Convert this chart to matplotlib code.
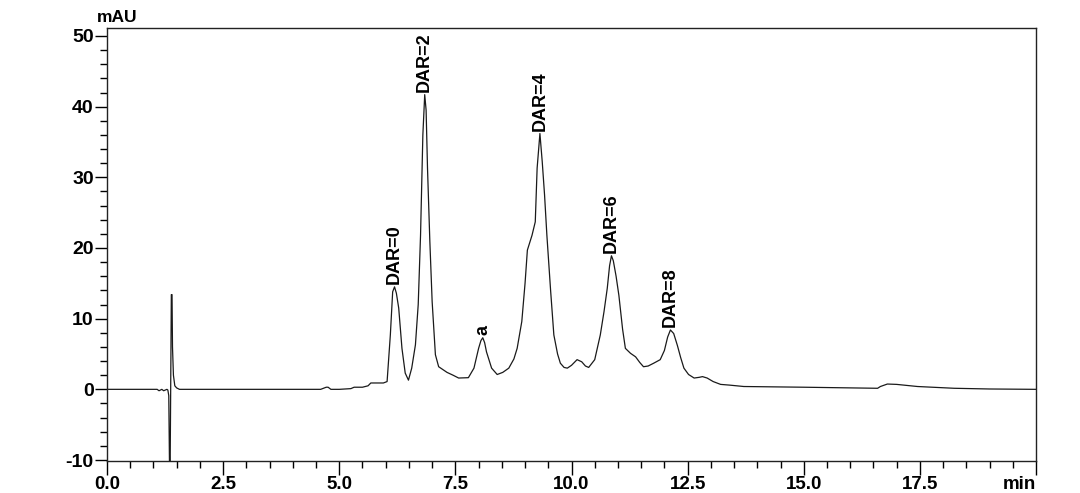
import matplotlib
matplotlib.use('Agg')
import matplotlib.pyplot as plt
from matplotlib.ticker import MultipleLocator, FixedLocator
import numpy as np

plt.rcParams['font.family'] = ['Liberation Sans', 'DejaVu Sans']
plt.rcParams['font.weight'] = 'bold'
plt.rcParams['axes.unicode_minus'] = False

# retention time (min) and absorbance (mAU)
time = [0.0, 0.7, 1.08, 1.12, 1.18, 1.22, 1.29, 1.31, 1.33, 1.345, 1.36, 1.375,
        1.385, 1.40, 1.41, 1.43, 1.46, 1.50, 1.56, 3.0, 4.6, 4.72, 4.76, 4.82,
        5.0, 5.25, 5.32, 5.5, 5.62, 5.68, 5.95, 6.03, 6.10, 6.15, 6.19, 6.23,
        6.28, 6.35, 6.42, 6.49, 6.56, 6.64, 6.70, 6.75, 6.80, 6.84, 6.87, 6.90,
        6.95, 7.0, 7.07, 7.14, 7.25, 7.32, 7.45, 7.57, 7.78, 7.90, 8.0, 8.05,
        8.09, 8.13, 8.17, 8.28, 8.40, 8.52, 8.65, 8.76, 8.83, 8.93, 9.0, 9.05,
        9.15, 9.22, 9.26, 9.32, 9.37, 9.42, 9.47, 9.55, 9.62, 9.70, 9.76, 9.84,
        9.91, 10.0, 10.12, 10.22, 10.30, 10.37, 10.50, 10.62, 10.70, 10.77,
        10.82, 10.86, 10.90, 10.96, 11.02, 11.10, 11.16, 11.27, 11.38, 11.47,
        11.55, 11.65, 11.77, 11.91, 12.0, 12.07, 12.13, 12.20, 12.28, 12.35,
        12.42, 12.52, 12.64, 12.75, 12.82, 12.92, 13.05, 13.21, 13.40, 13.71,
        15.0, 16.0, 16.59, 16.65, 16.80, 17.0, 17.45, 18.24, 19.0, 20.0]
signal = [0.0, 0.0, 0.0, -0.2, 0.0, -0.2, 0.0, -0.1, -0.9, -10.5, -10.5, 4.0,
          13.4, 13.4, 6.0, 2.0, 0.5, 0.2, 0.0, 0.0, 0.0, 0.3, 0.3, 0.0,
          0.0, 0.1, 0.3, 0.3, 0.5, 0.9, 0.9, 1.1, 7.7, 13.8, 14.5, 13.6,
          11.5, 5.8, 2.3, 1.3, 3.0, 6.3, 12.0, 21.8, 36.0, 41.7, 39.5, 31.3,
          21.0, 12.4, 4.9, 3.2, 2.7, 2.4, 2.0, 1.6, 1.65, 3.0, 5.8, 6.9,
          7.3, 6.6, 5.3, 3.0, 2.1, 2.4, 3.0, 4.3, 5.8, 9.6, 15.0, 19.7,
          21.8, 23.7, 31.3, 36.2, 32.2, 27.5, 21.8, 14.0, 7.7, 5.0, 3.7, 3.1,
          3.0, 3.4, 4.2, 3.9, 3.3, 3.1, 4.2, 7.7, 11.0, 14.3,
          17.5, 18.9, 18.2, 16.0, 13.3, 8.5, 5.8, 5.1, 4.6, 3.8,
          3.2, 3.3, 3.7, 4.2, 5.5, 7.4, 8.4, 7.9, 6.2, 4.5,
          3.0, 2.1, 1.6, 1.7, 1.8, 1.6, 1.1, 0.7, 0.6, 0.4,
          0.3, 0.2, 0.15, 0.4, 0.75, 0.7, 0.4, 0.15, 0.05, 0.0]

peak_labels = ['DAR=0', 'DAR=2', 'a', 'DAR=4', 'DAR=6', 'DAR=8']
peak_times = [6.19, 6.84, 8.09, 9.32, 10.86, 12.13]
peak_heights = [14.5, 41.7, 7.3, 36.2, 18.9, 8.4]

fig = plt.figure(figsize=(10.8, 4.93), dpi=100)
ax = fig.add_axes([107/1080, 32/493, 929/1080, 433/493])

ax.plot(time, signal, color='#1a1a1a', lw=0.9, clip_on=True)

for lab, t, h in zip(peak_labels, peak_times, peak_heights):
    ax.annotate(lab, (t, h), xytext=(0, 2), textcoords='offset points',
                rotation=90, ha='center', va='bottom', fontsize=13,
                fontweight='bold')

ax.set_xlim(0, 20)
ax.set_ylim(-10.14, 51.13)

xt = [0, 2.5, 5, 7.5, 10, 12.5, 15, 17.5, 20]
ax.xaxis.set_major_locator(FixedLocator(xt))
ax.set_xticklabels(['0.0', '2.5', '5.0', '7.5', '10.0', '12.5', '15.0', '17.5', 'min'])
ax.xaxis.set_minor_locator(MultipleLocator(0.5))
ax.yaxis.set_major_locator(FixedLocator([-10, 0, 10, 20, 30, 40, 50]))
ax.yaxis.set_minor_locator(MultipleLocator(2))

ax.tick_params(axis='x', which='major', length=10, width=1, pad=1, labelsize=13.5)
ax.tick_params(axis='x', which='minor', length=5, width=1)
ax.tick_params(axis='y', which='major', length=9, width=1, pad=0.5, labelsize=14)
ax.tick_params(axis='y', which='minor', length=5, width=1)
for lbl in ax.get_xticklabels() + ax.get_yticklabels():
    lbl.set_fontweight('bold')
xl = ax.get_xticklabels()
xl[-1].set_horizontalalignment('right')

for s in ax.spines.values():
    s.set_linewidth(1)
    s.set_color('#222222')

fig.text(117/1080, 1 - 18/493, 'mAU', ha='center', va='center',
         fontsize=12.5, fontweight='bold')

fig.savefig('out.png', dpi=100)
